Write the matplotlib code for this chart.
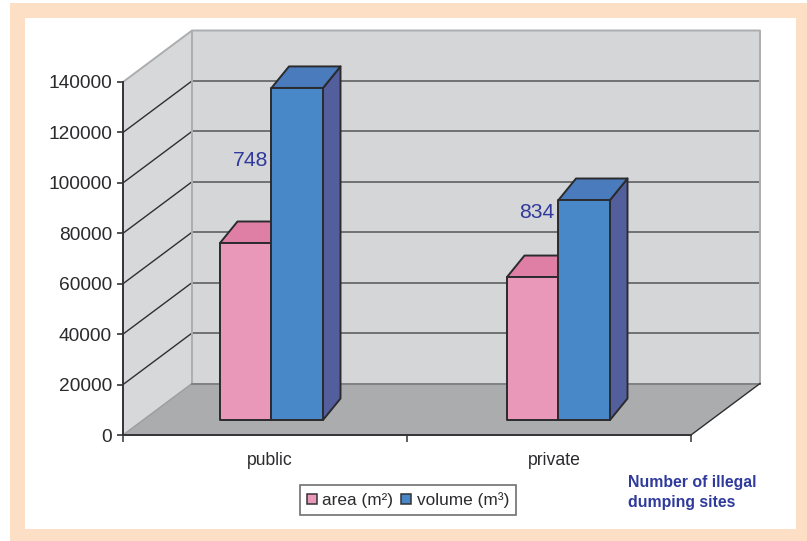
import matplotlib
matplotlib.use("Agg")
import matplotlib.pyplot as plt
from matplotlib.patches import Polygon, Rectangle

plt.rcParams['font.family'] = ['Liberation Sans', 'DejaVu Sans']

# Valeurs
categories = ["public", "private"]
area = [70200, 56700]
volume = [131700, 87250]
sites = ["748", "834"]
legend_labels = ["area (m²)", "volume (m³)"]
yticks = [0, 20000, 40000, 60000, 80000, 100000, 120000, 140000]

W, H = 807, 541
fig = plt.figure(figsize=(W / 100, H / 100), dpi=100, facecolor="white")
fig.patches.append(Rectangle((10 / W, 0), 797 / W, 538 / H, transform=fig.transFigure,
                             facecolor="#fddfc6", edgecolor="none", zorder=-2))
fig.patches.append(Rectangle((25 / W, 1 - 529 / H), 771 / W, 511 / H, transform=fig.transFigure,
                             facecolor="white", edgecolor="none", zorder=-1))

ax = fig.add_axes([123 / W, 1 - 435 / H, 568 / W, 353 / H])
ax.patch.set_visible(False)
ax.set_xlim(0, 2)
ax.set_ylim(0, 140000)

# Conversion pixels -> unités des axes
ux = 2 / 568
uy = 140000 / 353


def poly(pts, fc, ec="none", lw=1.0, z=2):
    ax.add_patch(Polygon(pts, closed=True, facecolor=fc, edgecolor=ec, linewidth=lw,
                         zorder=z, clip_on=False, joinstyle="round"))


# Profondeur du décor
wx = 69 * ux
wy = 51.5 * uy
top = 140000

poly([(0, 0), (wx, wy), (wx, top + wy), (0, top)], "#d7d8da")
poly([(wx, wy), (2 + wx, wy), (2 + wx, top + wy), (wx, top + wy)], "#d5d6d8")
poly([(0, 0), (2, 0), (2 + wx, wy), (wx, wy)], "#abacae")

# Grille
for t in yticks[1:-1]:
    ax.plot([wx, 2 + wx], [t + wy, t + wy], color="#5f6062", lw=1.2, zorder=3, clip_on=False)
    ax.plot([0, wx], [t, t + wy], color="#2f2f31", lw=1.0, zorder=3, clip_on=False)
ax.plot([0, wx, 2 + wx, 2 + wx], [top, top + wy, top + wy, wy], color="#acadaf", lw=1.4, zorder=3, clip_on=False)
ax.plot([wx, wx], [wy, top + wy], color="#acadaf", lw=1.4, zorder=3, clip_on=False)
ax.plot([0, wx], [0, wy], color="#9c9da0", lw=1.0, zorder=3, clip_on=False)
ax.plot([wx, 2 + wx], [wy, wy], color="#808184", lw=1.4, zorder=3, clip_on=False)
ax.plot([2, 2 + wx], [0, wy], color="#2f2f31", lw=1.0, zorder=3, clip_on=False)

# Barres 3D
bar_w = 51.5 * ux
centres = [0.5 + 6.5 * ux, 1.5 + 9.5 * ux]
fy = 15 * uy
dx = 17.5 * ux
dy = 21.5 * uy
edge = "#2b2b2e"


def bar3d(x0, h, front, dessus, cote, z):
    x1 = x0 + bar_w
    b = fy
    t = fy + h
    poly([(x1, b), (x1 + dx, b + dy), (x1 + dx, t + dy), (x1, t)], cote, edge, 1.4, z)
    poly([(x0, t), (x1, t), (x1 + dx, t + dy), (x0 + dx, t + dy)], dessus, edge, 1.4, z)
    poly([(x0, b), (x1, b), (x1, t), (x0, t)], front, edge, 1.4, z + 0.1)


for i in range(len(categories)):
    c = centres[i]
    bar3d(c - bar_w, area[i], "#ea98ba", "#e07fa5", "#c66f93", 4)
    bar3d(c, volume[i], "#4888c8", "#4a7bbd", "#525f9c", 5)

# Nombre de sites
blue_txt = "#2f3a9c"
ax.text((268 - 123) * ux, (435 - 160) * uy, sites[0], color=blue_txt, fontsize=15.2, ha="right", va="center", zorder=6)
ax.text((554 - 123) * ux, (435 - 212) * uy, sites[1], color=blue_txt, fontsize=15.2, ha="right", va="center", zorder=6)

# Axes
for s in ["top", "right"]:
    ax.spines[s].set_visible(False)
for s in ["left", "bottom"]:
    ax.spines[s].set_color("#333336")
    ax.spines[s].set_linewidth(1.4)
    ax.spines[s].set_zorder(4)
ax.set_yticks(yticks)
ax.set_yticklabels([str(t) for t in yticks])
ax.tick_params(axis="y", length=4, width=1.2, color="#333336", labelsize=13.8, labelcolor="#2b2b2e", pad=4)
ax.set_xticks([0, 1, 2])
ax.set_xticklabels([])
ax.tick_params(axis="x", which="major", length=5, width=1.1, color="#333336")
ax.set_xticks([0.5 + 4.5 * ux, 1.5 + 5.5 * ux], minor=True)
ax.set_xticklabels(categories, minor=True)
ax.tick_params(axis="x", which="minor", length=0, labelsize=12.7, labelcolor="#2b2b2e", pad=12)

# Légende
handles = [Rectangle((0, 0), 1, 1, facecolor="#ea98ba", edgecolor="#333336", linewidth=1.1),
           Rectangle((0, 0), 1, 1, facecolor="#4888c8", edgecolor="#333336", linewidth=1.1)]
leg = fig.legend(handles, legend_labels, ncol=2, loc="center", bbox_to_anchor=(408 / W, 1 - 500 / H),
                 fontsize=12.4, frameon=True, fancybox=False, framealpha=1, edgecolor="#6f6f72",
                 handlelength=0.57, handleheight=0.57, handletextpad=0.34, columnspacing=0.45,
                 borderpad=0.42, borderaxespad=0, labelcolor="#2b2b2e")
leg.get_frame().set_linewidth(1.2)

fig.text(628 / W, 1 - 482 / H, "Number of illegal", color=blue_txt, fontsize=11.4, fontweight="bold", va="center")
fig.text(628 / W, 1 - 503 / H, "dumping sites", color=blue_txt, fontsize=11.4, fontweight="bold", va="center")

fig.savefig("out.png", dpi=100, facecolor=fig.get_facecolor())
